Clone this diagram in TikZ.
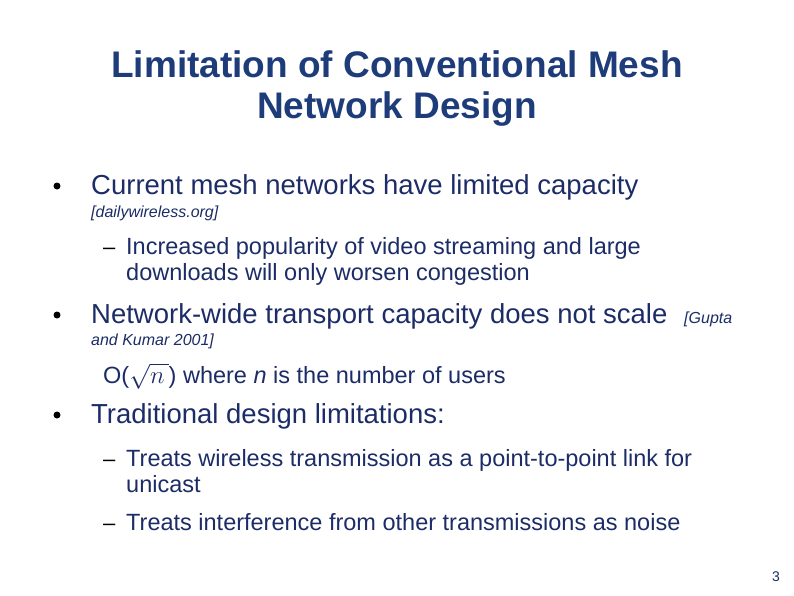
\documentclass[tikz,border=0pt]{standalone}
\usepackage{fontspec}
\setmainfont{Liberation Sans}
\definecolor{navy}{HTML}{1C2C66}
\definecolor{ttl}{HTML}{1F3C7A}
\begin{document}
\begin{tikzpicture}[x=1pt,y=-1pt,
  txt/.style={anchor=base west,inner sep=0pt,text=navy},
  big/.style={txt,font=\fontsize{27.5}{32}\selectfont},
  mid/.style={txt,font=\fontsize{23.5}{28}\selectfont},
  sml/.style={txt,font=\fontsize{16}{18}\selectfont\itshape},
  ttlst/.style={anchor=base,inner sep=0pt,text=ttl,font=\fontsize{37}{41}\selectfont\bfseries},
  dot/.style={circle,fill=black,inner sep=0pt,minimum size=7pt},
  dsh/.style={anchor=base west,inner sep=0pt,font=\fontsize{22}{24}\selectfont}]
\useasboundingbox (0,0) rectangle (794,595);
\node[ttlst] (title1) at (397,77) {Limitation of Conventional Mesh};
\node[ttlst] (title2) at (397,118) {Network Design};
\node[dot] (b1) at (57,186) {};
\node[big] (t1) at (91,194) {Current mesh networks have limited capacity};
\node[sml] (s1) at (91,217) {[dailywireless.org]};
\node[dsh] (d1) at (103,254) {–};
\node[mid] (t11a) at (126,254) {Increased popularity of video streaming and large};
\node[mid] (t11b) at (126,280) {downloads will only worsen congestion};
\node[dot] (b2) at (57,315) {};
\node[big] (t2) at (91,323) {Network-wide transport capacity does not scale};
\node[sml] (s2) at (684,323) {[Gupta};
\node[sml] (s3) at (91,345) {and Kumar 2001]};
\node[mid] (t21) at (103,383) {O($\sqrt{n\,}$) where \textit{n} is the number of users};
\node[dot] (b3) at (57,415) {};
\node[big] (t3) at (91,423) {Traditional design limitations:};
\node[dsh] (d2) at (103,466) {–};
\node[mid] (t31a) at (126,466) {Treats wireless transmission as a point-to-point link for};
\node[mid] (t31b) at (126,492) {unicast};
\node[dsh] (d3) at (103,530) {–};
\node[mid] (t32) at (126,530) {Treats interference from other transmissions as noise};
\node[txt,font=\fontsize{14}{16}\selectfont] (pg) at (772,581) {3};
\end{tikzpicture}
\end{document}
